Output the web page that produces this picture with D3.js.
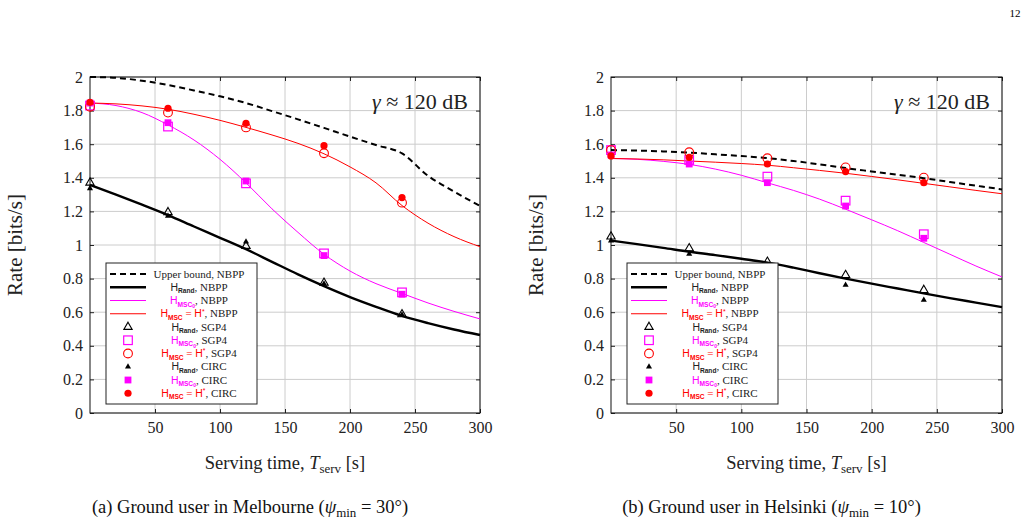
<!DOCTYPE html>
<html>
<head>
<meta charset="utf-8">
<script src="https://cdn.jsdelivr.net/npm/d3@7"></script>
<style>
  body { margin: 0; background: #fff; }
  svg { display: block; }
</style>
</head>
<body>
<div id="chart"></div>
<script>
// ---------------- DATA ----------------
const xTicks = [50, 100, 150, 200, 250, 300];
const yTicks = [0, 0.2, 0.4, 0.6, 0.8, 1, 1.2, 1.4, 1.6, 1.8, 2];

const curveTimes = [0, 20, 40, 60, 80, 100, 120, 140, 160, 180, 200, 220, 240, 260, 280, 300];
const markerTimes = [0, 60, 120, 180, 240];

// Melbourne (a)
const melUpper = [2.0, 1.995, 1.978, 1.952, 1.92, 1.885, 1.845, 1.797, 1.748, 1.697, 1.645, 1.595, 1.545, 1.412, 1.318, 1.232];
const melRand  = [1.357, 1.30, 1.24, 1.178, 1.11, 1.043, 0.975, 0.90, 0.825, 0.755, 0.69, 0.632, 0.578, 0.535, 0.497, 0.464];
const melMsc0  = [1.845, 1.83, 1.788, 1.715, 1.625, 1.51, 1.37, 1.215, 1.075, 0.945, 0.845, 0.77, 0.712, 0.655, 0.605, 0.56];
const melMsc   = [1.845, 1.84, 1.828, 1.808, 1.778, 1.742, 1.70, 1.655, 1.605, 1.543, 1.465, 1.37, 1.235, 1.13, 1.05, 0.99];
const melRandSgp4 = [1.371, 1.195, 0.994, 0.775, 0.587];
const melMsc0Sgp4 = [1.83, 1.705, 1.367, 0.95, 0.718];
const melMscSgp4  = [1.823, 1.788, 1.70, 1.546, 1.252];
const melRandCirc = [1.337, 1.172, 1.02, 0.77, 0.585];
const melMsc0Circ = [1.845, 1.728, 1.381, 0.937, 0.707];
const melMscCirc  = [1.849, 1.814, 1.724, 1.591, 1.282];

// Helsinki (b)
const helUpper = [1.565, 1.562, 1.557, 1.55, 1.54, 1.53, 1.517, 1.50, 1.48, 1.458, 1.438, 1.418, 1.398, 1.375, 1.353, 1.331];
const helRand  = [1.026, 1.005, 0.983, 0.96, 0.94, 0.918, 0.895, 0.865, 0.832, 0.80, 0.77, 0.741, 0.712, 0.684, 0.657, 0.63];
const helMsc0  = [1.515, 1.51, 1.498, 1.48, 1.452, 1.415, 1.37, 1.325, 1.273, 1.213, 1.15, 1.085, 1.015, 0.945, 0.875, 0.81];
const helMsc   = [1.515, 1.512, 1.507, 1.50, 1.493, 1.485, 1.475, 1.46, 1.444, 1.427, 1.408, 1.388, 1.367, 1.346, 1.325, 1.305];
const helRandSgp4 = [1.05, 0.98, 0.90, 0.821, 0.732];
const helMsc0Sgp4 = [1.565, 1.506, 1.407, 1.264, 1.064];
const helMscSgp4  = [1.565, 1.552, 1.516, 1.462, 1.401];
const helRandCirc = [1.026, 0.946, 0.88, 0.762, 0.673];
const helMsc0Circ = [1.536, 1.482, 1.371, 1.232, 1.04];
const helMscCirc  = [1.53, 1.522, 1.482, 1.437, 1.371];

const annotation = "120 dB";

// ---------------- SETUP ----------------
const W = 1028, H = 523;
const serif = "'Liberation Serif', 'DejaVu Serif', serif";
const sans = "'Liberation Sans', 'DejaVu Sans', sans-serif";
const MAG = "#ff00ff", RED = "#ff0000";

const svg = d3.select("#chart").append("svg")
  .attr("width", W).attr("height", H)
  .attr("font-family", serif);

// page number
svg.append("text").attr("x", 1015).attr("y", 17)
  .attr("text-anchor", "middle").attr("font-family", serif).style("font-size", "11px").text("12");

// series styles (shared by plot and legend)
const lineStyles = {
  upper: {color: "#000", width: 2, dash: "6,4"},
  rand:  {color: "#000", width: 2.4, dash: null},
  msc0:  {color: MAG, width: 1, dash: null},
  msc:   {color: RED, width: 1, dash: null}
};

function drawMarker(g, kind, cx, cy) {
  if (kind === "triOpen") {
    g.append("path").attr("d", d3.symbol(d3.symbolTriangle, 30)())
      .attr("transform", `translate(${cx},${cy})`)
      .attr("fill", "none").attr("stroke", "#000").attr("stroke-width", 1.1);
  } else if (kind === "triFill") {
    g.append("path").attr("d", d3.symbol(d3.symbolTriangle, 16)())
      .attr("transform", `translate(${cx},${cy})`).attr("fill", "#000");
  } else if (kind === "sqOpen") {
    g.append("rect").attr("x", cx - 4.3).attr("y", cy - 4.3).attr("width", 8.6).attr("height", 8.6)
      .attr("fill", "none").attr("stroke", MAG).attr("stroke-width", 1.2);
  } else if (kind === "sqFill") {
    g.append("rect").attr("x", cx - 3.4).attr("y", cy - 3.4).attr("width", 6.8).attr("height", 6.8)
      .attr("fill", MAG);
  } else if (kind === "cirOpen") {
    g.append("circle").attr("cx", cx).attr("cy", cy).attr("r", 4.4)
      .attr("fill", "none").attr("stroke", RED).attr("stroke-width", 1.1);
  } else if (kind === "cirFill") {
    g.append("circle").attr("cx", cx).attr("cy", cy).attr("r", 3.6).attr("fill", RED);
  }
}

// rich text helper: segments [text, style, colour]
function richText(sel, segs, baseSize) {
  let shift = 0;
  segs.forEach(([t, st, col]) => {
    const ts = sel.append("tspan").text(t);
    if (col) ts.attr("fill", col);
    let target = 0, size = baseSize, fam = serif, weight = null;
    if (st === "sans") { fam = sans; size = baseSize * 0.95; }
    if (st === "sub") { fam = sans; size = baseSize * 0.6; target = baseSize * 0.22; weight = "bold"; }
    if (st === "subsub") { fam = sans; size = baseSize * 0.45; target = baseSize * 0.34; weight = "bold"; }
    if (st === "sup") { fam = sans; size = baseSize * 0.62; target = -baseSize * 0.35; }
    if (st === "it") { ts.style("font-style", "italic"); }
    if (st === "rsub") { size = baseSize * 0.7; target = baseSize * 0.22; }
    ts.attr("dy", target - shift).style("font-family", fam).style("font-size", size + "px");
    if (weight) ts.style("font-weight", weight);
    shift = target;
  });
}

const hRand = [["H", "sans"], ["Rand", "sub"]];
const hMsc0 = [["H", "sans"], ["MSC", "sub"], ["0", "subsub"]];
const hStar = [["H", "sans"], ["MSC", "sub"], [" = ", "plain"], ["H", "sans"], ["*", "sup"]];

const legendRows = [
  {mark: "upper", head: [["Upper bound", "plain"]], color: "#222", tail: ", NBPP"},
  {mark: "rand", head: hRand, color: "#222", tail: ", NBPP"},
  {mark: "msc0", head: hMsc0, color: MAG, tail: ", NBPP"},
  {mark: "msc", head: hStar, color: RED, tail: ", NBPP"},
  {mark: "triOpen", head: hRand, color: "#222", tail: ", SGP4"},
  {mark: "sqOpen", head: hMsc0, color: MAG, tail: ", SGP4"},
  {mark: "cirOpen", head: hStar, color: RED, tail: ", SGP4"},
  {mark: "triFill", head: hRand, color: "#222", tail: ", CIRC"},
  {mark: "sqFill", head: hMsc0, color: MAG, tail: ", CIRC"},
  {mark: "cirFill", head: hStar, color: RED, tail: ", CIRC"}
];

// ---------------- PANEL ----------------
function drawPanel(p) {
  const g = svg.append("g");
  const x = d3.scaleLinear().domain([0, 300]).range([p.x0, p.x1]);
  const y = d3.scaleLinear().domain([0, 2]).range([413, 77]);

  // grid
  g.append("g").selectAll("line").data(xTicks).join("line")
    .attr("x1", d => x(d)).attr("x2", d => x(d)).attr("y1", y(0)).attr("y2", y(2))
    .attr("stroke", "#cccccc").attr("stroke-width", 1);
  g.append("g").selectAll("line").data(yTicks).join("line")
    .attr("x1", x(0)).attr("x2", x(300)).attr("y1", d => y(d)).attr("y2", d => y(d))
    .attr("stroke", "#cccccc").attr("stroke-width", 1);

  // axes with inward ticks
  const styleAxis = a => {
    a.attr("font-family", serif).attr("font-size", 16);
    a.select(".domain").remove();
    a.selectAll("line").attr("stroke", "#222");
    a.selectAll("text").style("font-family", serif).style("font-size", "16px").attr("fill", "#222");
  };
  g.append("g").attr("transform", `translate(0,${y(0)})`)
    .call(d3.axisBottom(x).tickValues(xTicks).tickSize(-4).tickSizeOuter(0).tickPadding(9))
    .call(styleAxis);
  g.append("g").attr("transform", `translate(0,${y(2)})`)
    .call(d3.axisTop(x).tickValues(xTicks).tickSize(-4).tickSizeOuter(0).tickFormat(""))
    .call(styleAxis);
  g.append("g").attr("transform", `translate(${x(0)},0)`)
    .call(d3.axisLeft(y).tickValues(yTicks).tickSize(-4).tickSizeOuter(0).tickPadding(7).tickFormat(d3.format("~g")))
    .call(styleAxis);
  g.append("g").attr("transform", `translate(${x(300)},0)`)
    .call(d3.axisRight(y).tickValues(yTicks).tickSize(-4).tickSizeOuter(0).tickFormat(""))
    .call(styleAxis);

  // frame
  g.append("rect").attr("x", x(0)).attr("y", y(2)).attr("width", x(300) - x(0)).attr("height", y(0) - y(2))
    .attr("fill", "none").attr("stroke", "#111").attr("stroke-width", 1);

  // curves
  const line = d3.line().x((d, i) => x(curveTimes[i])).y(d => y(d)).curve(d3.curveMonotoneX);
  [["upper", p.upper], ["rand", p.rand], ["msc0", p.msc0], ["msc", p.msc]].forEach(([k, vals]) => {
    const s = lineStyles[k];
    g.append("path").datum(vals).attr("d", line)
      .attr("fill", "none").attr("stroke", s.color).attr("stroke-width", s.width)
      .attr("stroke-dasharray", s.dash);
  });

  // markers
  [["triOpen", p.randSgp4], ["sqOpen", p.msc0Sgp4], ["cirOpen", p.mscSgp4],
   ["triFill", p.randCirc], ["sqFill", p.msc0Circ], ["cirFill", p.mscCirc]].forEach(([kind, vals]) => {
    vals.forEach((v, i) => drawMarker(g, kind, x(markerTimes[i]), y(v)));
  });

  // annotation
  const ann = g.append("text").attr("x", x(300) - 12).attr("y", 109)
    .attr("text-anchor", "end").style("font-size", "22px").attr("fill", "#222");
  ann.append("tspan").style("font-style", "italic").text("γ");
  ann.append("tspan").text(" ≈ " + annotation);

  // legend
  const lx = x(0) + 16, ly = 263, lw = 151, lh = 141;
  const lg = g.append("g");
  lg.append("rect").attr("x", lx).attr("y", ly).attr("width", lw).attr("height", lh)
    .attr("fill", "#fff").attr("stroke", "#222").attr("stroke-width", 1);
  legendRows.forEach((r, i) => {
    const ry = ly + 11 + i * 13.25;
    if (lineStyles[r.mark]) {
      const s = lineStyles[r.mark];
      lg.append("line").attr("x1", lx + 4).attr("x2", lx + 40).attr("y1", ry).attr("y2", ry)
        .attr("stroke", s.color).attr("stroke-width", s.width).attr("stroke-dasharray", s.dash);
    } else {
      drawMarker(lg, r.mark, lx + 22, ry);
    }
    const t = lg.append("text").attr("x", lx + 93).attr("y", ry + 3.6)
      .attr("text-anchor", "middle").attr("fill", "#222");
    richText(t, r.head.map(s => [s[0], s[1], r.color]).concat([[r.tail, "plain", "#222"]]), 11);
  });

  // axis titles
  const cx = (p.x0 + p.x1) / 2;
  g.append("text").attr("transform", `translate(${p.x0 - 68},245) rotate(-90)`)
    .attr("text-anchor", "middle").style("font-size", "21px").attr("fill", "#222").text("Rate [bits/s]");
  const xt = g.append("text").attr("x", cx).attr("y", 469).attr("text-anchor", "middle").attr("fill", "#222");
  richText(xt, [["Serving time, ", "plain"], ["T", "it"], ["serv", "rsub"], [" [s]", "plain"]], 18.5);

  // caption
  const cap = g.append("text").attr("x", cx - 35).attr("y", 513).attr("text-anchor", "middle").attr("fill", "#111");
  richText(cap, [[p.caption, "plain"], ["ψ", "it"], ["min", "rsub"], [` = ${p.angle}°)`, "plain"]], 18.5);
}

drawPanel({
  x0: 90, x1: 480,
  upper: melUpper, rand: melRand, msc0: melMsc0, msc: melMsc,
  randSgp4: melRandSgp4, msc0Sgp4: melMsc0Sgp4, mscSgp4: melMscSgp4,
  randCirc: melRandCirc, msc0Circ: melMsc0Circ, mscCirc: melMscCirc,
  caption: "(a) Ground user in Melbourne (", angle: 30
});
drawPanel({
  x0: 611, x1: 1002,
  upper: helUpper, rand: helRand, msc0: helMsc0, msc: helMsc,
  randSgp4: helRandSgp4, msc0Sgp4: helMsc0Sgp4, mscSgp4: helMscSgp4,
  randCirc: helRandCirc, msc0Circ: helMsc0Circ, mscCirc: helMscCirc,
  caption: "(b) Ground user in Helsinki (", angle: 10
});
</script>
</body>
</html>
